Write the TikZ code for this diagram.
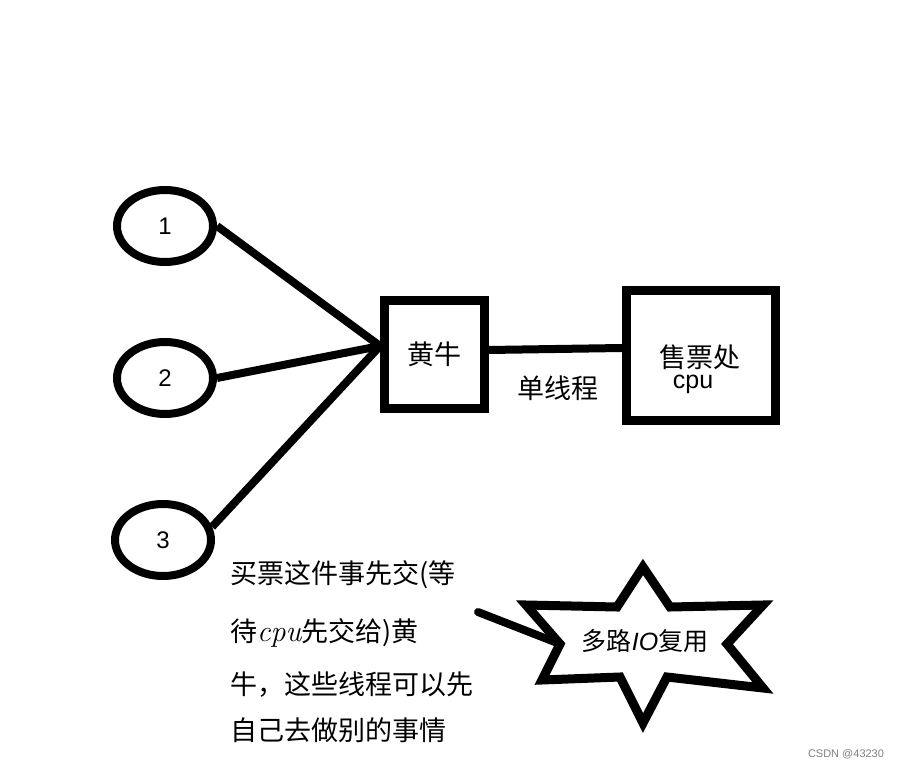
\documentclass[tikz,border=0pt]{standalone}
\usepackage{fontspec}
\newfontfamily\cjk{Noto Sans CJK SC}
\newfontfamily\latsans{Liberation Sans}
\usetikzlibrary{shapes.geometric}
\newcommand{\fs}[1]{\fontsize{#1}{#1}\selectfont}

\begin{document}
\begin{tikzpicture}[x=1pt, y=-1pt, line width=8pt,
    client/.style={draw, ellipse, minimum width=96pt, minimum height=72pt, inner sep=0pt, font=\latsans\fs{24}},
    stall/.style={draw, rectangle, line width=9pt, inner sep=0pt},
    label/.style={font=\cjk\fs{27}, inner sep=0pt}]
    \useasboundingbox[fill=white] (0,0) rectangle (900,768);

    % Clients
    \node[client] (c1) at (165,226) {1};
    \node[client] (c2) at (165,378) {2};
    \node[client] (c3) at (163,540) {3};

    % Scalper and ticket office
    \node[stall, minimum width=100pt, minimum height=108pt, font=\cjk\fs{27}] (huang) at (434,354) {黄牛};
    \node[stall, minimum width=149pt, minimum height=130pt] (office) at (701,355) {};
    \node[label] (officetxt) at (700,357) {售票处};
    \node[label, font=\latsans\fs{25}] (cpu) at (693,384) {cpu};
    \node[label] (single) at (558,388) {单线程};

    \coordinate (hub) at (380,346);
    \draw (c1.east) -- (hub);
    \draw (c2.east) -- (hub);
    \draw (c3.15) -- (hub);
    \draw ([yshift=4pt]huang.east) -- ([yshift=7pt]office.west);

    % Note below
    \node[label, anchor=west] (t1) at (226,575) {买票这件事先交(等};
    \node[label, anchor=west] (t2) at (226,633) {待{\normalfont\itshape\fs{30}cpu}先交给)黄};
    \node[label, anchor=west] (t3) at (226,685) {牛，这些线程可以先};
    \node[label, anchor=west] (t4) at (226,730) {自己去做别的事情};

    % Star
    \coordinate (s1) at (643,567); \coordinate (s2) at (670,607); \coordinate (s3) at (763,605);
    \coordinate (s4) at (727,644); \coordinate (s5) at (763,688); \coordinate (s6) at (667,677);
    \coordinate (s7) at (643,723); \coordinate (s8) at (620,677); \coordinate (s9) at (542,680);
    \coordinate (s10) at (560,644); \coordinate (s11) at (526,605); \coordinate (s12) at (617,607);
    \draw[line width=9pt, line join=miter, fill=white] (s1) \foreach \i in {2,...,12} {-- (s\i)} -- cycle;
    \node[label, font=\cjk\fs{25}] (mux) at (645,641) {多路{\latsans\itshape IO}复用};

    \coordinate (lead) at (478,612);
    \draw[line cap=round] (lead) -- (s10);

    \node[font=\latsans\fs{11}, text=gray] (mark) at (846,754) {CSDN @43230};
\end{tikzpicture}
\end{document}
